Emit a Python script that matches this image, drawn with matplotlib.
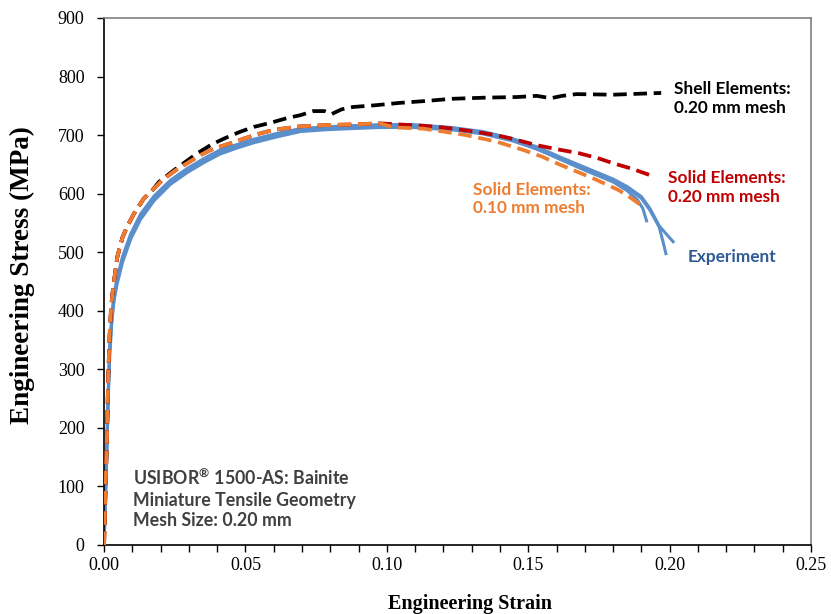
import matplotlib
matplotlib.use("Agg")
import matplotlib.pyplot as plt
from matplotlib.ticker import MultipleLocator, FormatStrFormatter

# ---------------- data ----------------
solid10_strain = [0, 0.0005, 0.001, 0.0015, 0.002, 0.0025, 0.003, 0.0039, 0.0047, 0.0065, 0.0082,
                  0.0106, 0.0141, 0.0171, 0.0206, 0.0253, 0.0294, 0.0341, 0.0388, 0.0447, 0.0494,
                  0.0553, 0.060, 0.0694, 0.078, 0.086, 0.0975, 0.103, 0.1128,
                  0.120, 0.128, 0.1386, 0.148, 0.155, 0.160, 0.166, 0.173, 0.178, 0.182, 0.1865, 0.1905]
solid10_stress = [0, 90, 180, 290, 360, 405, 430, 464, 492, 525, 544,
                  566, 592, 606, 623, 640, 652, 666, 677, 686, 694,
                  703, 709, 715, 717, 718, 720, 713, 711,
                  706, 700, 689, 675, 663, 652, 640, 626, 615, 606, 592, 578]

solid20_strain = [0, 0.0005, 0.001, 0.0015, 0.002, 0.0025, 0.003, 0.0039, 0.0047, 0.0065, 0.0082,
                  0.0106, 0.0141, 0.0171, 0.0206, 0.0253, 0.0294, 0.0341, 0.0388, 0.0447, 0.0494,
                  0.0553, 0.060, 0.0694, 0.078, 0.086, 0.0975, 0.105, 0.113,
                  0.120, 0.128, 0.1386, 0.145, 0.1528, 0.160, 0.168, 0.175, 0.180, 0.187, 0.194]
solid20_stress = [0, 90, 180, 290, 360, 405, 430, 464, 492, 525, 544,
                  566, 592, 606, 623, 640, 652, 666, 677, 686, 694,
                  703, 709, 715, 717, 718, 720, 718, 716,
                  713, 708, 700, 693, 683, 676, 669, 660, 652, 642, 630]

shell_strain = [0, 0.0005, 0.001, 0.0015, 0.002, 0.0025, 0.003, 0.0039, 0.0047, 0.0065, 0.0082,
                0.0106, 0.0141, 0.0171, 0.0194, 0.0247, 0.033, 0.0377, 0.0424, 0.0483, 0.053,
                0.0589, 0.0647, 0.0694, 0.074, 0.078, 0.0805, 0.084, 0.088, 0.096, 0.1045, 0.113,
                0.123, 0.135, 0.146, 0.153, 0.158, 0.162, 0.167, 0.180, 0.197]
shell_stress = [0, 90, 180, 290, 360, 405, 430, 464, 492, 525, 544,
                566, 592, 606, 620, 640, 669, 683, 694, 706, 714,
                721, 729, 734, 741, 741, 736, 744, 748, 751, 755, 758,
                762, 764, 765, 767, 763, 767, 770, 769, 772]

exp1_strain = [0, 0.0005, 0.001, 0.0015, 0.002, 0.0028, 0.0036, 0.0046, 0.0065, 0.0094, 0.0129,
               0.0177, 0.0235, 0.0294, 0.0353, 0.0412, 0.0471, 0.053, 0.0612, 0.0694, 0.078,
               0.087, 0.098, 0.109, 0.123, 0.134, 0.1445, 0.153, 0.162,
               0.170, 0.176, 0.180, 0.185, 0.1885, 0.1905, 0.192]
exp1_stress = [0, 80, 170, 260, 330, 390, 425, 450, 487, 527, 561,
               592, 620, 640, 657, 672, 681, 690, 700, 709, 712,
               714, 716, 716, 711, 704, 692, 677, 657,
               640, 628, 620, 605, 590, 575, 551]

exp2_strain = [0, 0.0005, 0.001, 0.0015, 0.002, 0.0028, 0.0036, 0.0046, 0.0065, 0.0094, 0.0129,
               0.0177, 0.0235, 0.0294, 0.0353, 0.0412, 0.0471, 0.053, 0.0612, 0.0694, 0.078,
               0.087, 0.098, 0.109, 0.123, 0.134, 0.1445, 0.153, 0.162,
               0.170, 0.176, 0.180, 0.185, 0.190, 0.193, 0.1963, 0.1978, 0.1988]
exp2_stress = [0, 75, 160, 250, 322, 383, 419, 445, 482, 522, 556,
               588, 616, 636, 653, 668, 678, 687, 697, 706, 709,
               711, 713, 713, 709, 702, 690, 676, 658,
               642, 631, 623, 610, 592, 572, 543, 515, 495]

exp3_strain = [0, 0.0005, 0.001, 0.0015, 0.002, 0.0028, 0.0036, 0.0046, 0.0065, 0.0094, 0.0129,
               0.0177, 0.0235, 0.0294, 0.0353, 0.0412, 0.0471, 0.053, 0.0612, 0.0694, 0.078,
               0.087, 0.098, 0.109, 0.123, 0.134, 0.1445, 0.153, 0.162,
               0.170, 0.176, 0.180, 0.185, 0.190, 0.193, 0.1963, 0.199, 0.2016]
exp3_stress = [0, 85, 178, 268, 338, 396, 430, 455, 492, 531, 565,
               596, 623, 643, 660, 675, 684, 693, 703, 711, 714,
               716, 718, 718, 713, 706, 694, 680, 661,
               645, 633, 625, 612, 595, 575, 545, 530, 516]

x_ticks = [0.00, 0.05, 0.10, 0.15, 0.20, 0.25]
y_ticks = [0, 100, 200, 300, 400, 500, 600, 700, 800, 900]

# ---------------- figure ----------------
plt.rcParams["mathtext.default"] = "regular"
fig = plt.figure(figsize=(8.31, 6.14), dpi=100)
ax = fig.add_axes([0.1252, 0.1124, 0.976 - 0.1252, 0.9707 - 0.1124])

blue = "#5B8FCC"
for s, v in [(exp1_strain, exp1_stress), (exp2_strain, exp2_stress), (exp3_strain, exp3_stress)]:
    ax.plot(s, v, color=blue, lw=2.2, solid_capstyle="butt", solid_joinstyle="round", zorder=2)

dash = (0, (3.6, 1.8))
ax.plot(shell_strain, shell_stress, color="black", lw=2.7, ls=dash, zorder=2.5)
ax.plot(solid20_strain, solid20_stress, color="#C00000", lw=2.7, ls=dash, zorder=3)
ax.plot(solid10_strain, solid10_stress, color="#ED7D31", lw=2.7, ls=dash, zorder=4)

ax.set_xlim(0, 0.25)
ax.set_ylim(0, 900)
ax.set_xticks(x_ticks)
ax.set_yticks(y_ticks)
ax.xaxis.set_minor_locator(MultipleLocator(0.01))
ax.xaxis.set_major_formatter(FormatStrFormatter("%.2f"))

serif = "Liberation Serif"
for lab in ax.get_xticklabels() + ax.get_yticklabels():
    lab.set_fontfamily(serif)
    lab.set_fontsize(13)
ax.tick_params(axis="both", which="both", direction="out", length=5, width=1, color="black")
ax.tick_params(axis="x", which="major", pad=4)
ax.tick_params(axis="y", which="major", pad=9)

for side in ["top", "right"]:
    ax.spines[side].set_color("#7F7F7F")
    ax.spines[side].set_linewidth(1.2)
for side in ["left", "bottom"]:
    ax.spines[side].set_color("black")
    ax.spines[side].set_linewidth(1.2)

ax.set_xlabel("Engineering Strain", fontfamily=serif, fontweight="bold", fontsize=14.5)
ax.set_ylabel("Engineering Stress (MPa)", fontfamily=serif, fontweight="bold", fontsize=19.5)
ax.xaxis.set_label_coords(0.518, -0.093)
ax.yaxis.set_label_coords(-0.098, 0.512)

sans = "Lato"
fs = 12.4
ax.text(0.2015, 763, "Shell Elements:\n0.20 mm mesh", color="black", fontfamily=sans,
        fontweight="bold", fontsize=fs, ha="left", va="center", linespacing=1.2)
ax.text(0.1995, 611, "Solid Elements:\n0.20 mm mesh", color="#C00000", fontfamily=sans,
        fontweight="bold", fontsize=fs, ha="left", va="center", linespacing=1.2)
ax.text(0.1305, 591, "Solid Elements:\n0.10 mm mesh", color="#ED7D31", fontfamily=sans,
        fontweight="bold", fontsize=fs, ha="left", va="center", linespacing=1.2)
ax.text(0.2065, 492, "Experiment", color="#2F5A96", fontfamily=sans,
        fontweight="bold", fontsize=fs, ha="left", va="center")
ax.text(0.0103, 80, "USIBOR$^{\u00ae}$ 1500-AS: Bainite\nMiniature Tensile Geometry\nMesh Size: 0.20 mm",
        color="#404040", fontfamily=sans, fontweight="bold", fontsize=12.8,
        ha="left", va="center", linespacing=1.25)

fig.savefig("out.png", dpi=100)
